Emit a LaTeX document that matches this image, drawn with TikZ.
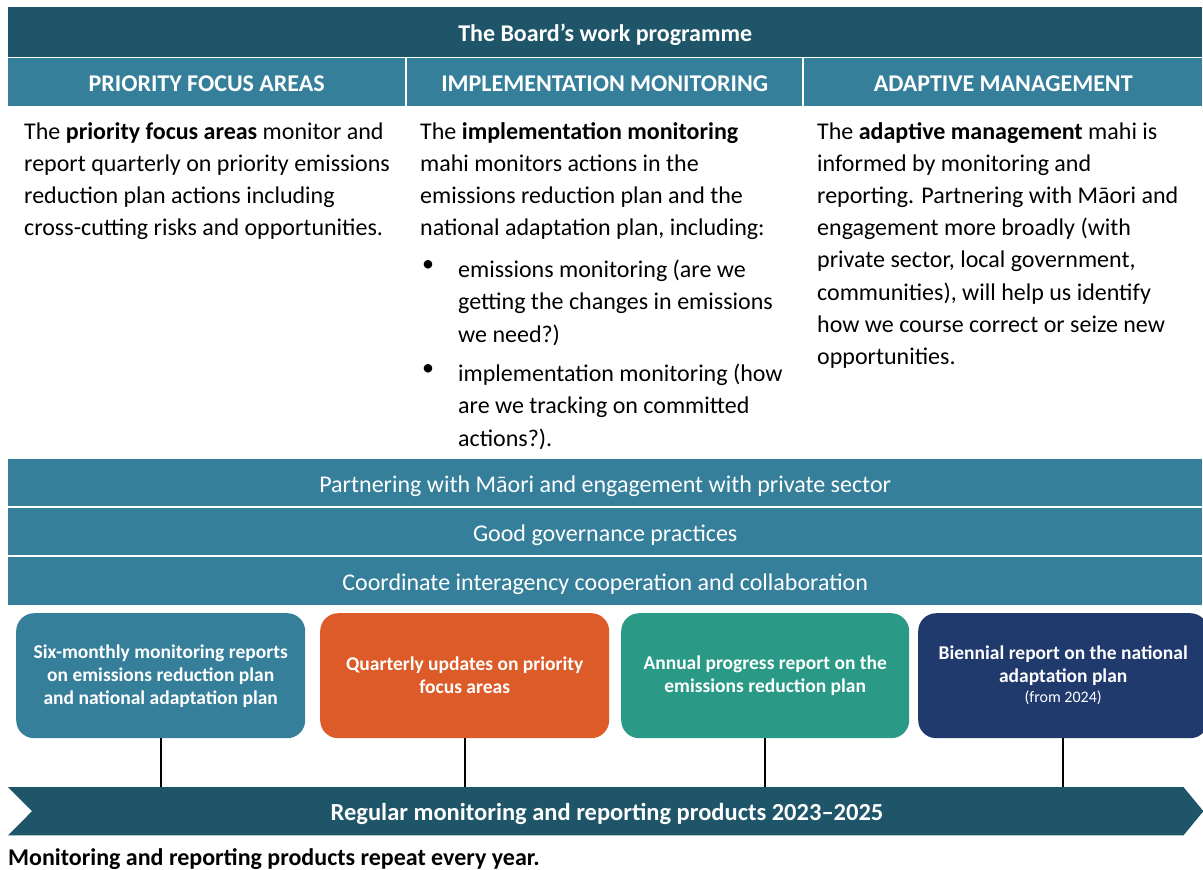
\documentclass[tikz,border=0pt]{standalone}
\usepackage{fontspec}
\setmainfont{Carlito}
\definecolor{hdr}{HTML}{1E5569}
\definecolor{tealc}{HTML}{357F9B}
\definecolor{orng}{HTML}{DC5B28}
\definecolor{grn}{HTML}{2A9A86}
\definecolor{navyc}{HTML}{203A6E}
\begin{document}
\begin{tikzpicture}[x=1pt,y=-1pt,
  bar/.style={anchor=north west,inner sep=0pt,text=white,text height=19pt,text depth=0pt},
  colhead/.style={bar,fill=tealc,minimum height=48pt,font=\fontsize{24}{28}\selectfont\bfseries},
  band/.style={bar,fill=tealc,minimum width=1194pt,font=\fontsize{24}{28}\selectfont},
  body/.style={anchor=north west,inner sep=0pt,align=left,font=\fontsize{24}{32.2}\selectfont},
  bul/.style={anchor=north west,inner sep=0pt,font=\fontsize{24}{32.2}\selectfont},
  prod/.style={anchor=north west,inner sep=0pt,rounded corners=18pt,minimum height=125pt,text=white,align=center,font=\fontsize{19.5}{23}\selectfont\bfseries},
  link/.style={line width=1.6pt,black}]
\useasboundingbox (0,0) rectangle (1203,870);
% title
\node[bar,fill=hdr,minimum width=1194pt,minimum height=50pt,font=\fontsize{24}{28}\selectfont\bfseries] (title) at (8,7) {The Board’s work programme};
\node[colhead,minimum width=397pt] (h1) at (8,58) {PRIORITY FOCUS AREAS};
\node[colhead,minimum width=395pt] (h2) at (407,58) {IMPLEMENTATION MONITORING};
\node[colhead,minimum width=398pt] (h3) at (804,58) {ADAPTIVE MANAGEMENT};
% column texts
\node[body] (t1) at (24,122) {The \textbf{priority focus areas} monitor and\\report quarterly on priority emissions\\reduction plan actions including\\cross-cutting risks and opportunities.};
\node[body] (t2) at (420,122) {The \textbf{implementation monitoring}\\mahi monitors actions in the\\emissions reduction plan and the\\national adaptation plan, including:};
\node[bul] (d1) at (422,260) {•};
\node[body] (t2a) at (458,260) {emissions monitoring (are we\\getting the changes in emissions\\we need?)};
\node[bul] (d2) at (422,364) {•};
\node[body] (t2b) at (458,364) {implementation monitoring (how\\are we tracking on committed\\actions?).};
\node[body] (t3) at (817,122) {The \textbf{adaptive management} mahi is\\informed by monitoring and\\reporting. Partnering with Māori and\\engagement more broadly (with\\private sector, local government,\\communities), will help us identify\\how we course correct or seize new\\opportunities.};
% bands
\node[band,minimum height=47pt] (p1) at (8,459) {Partnering with Māori and engagement with private sector};
\node[band,minimum height=47pt] (p2) at (8,508) {Good governance practices};
\node[band,minimum height=48pt] (p3) at (8,557) {Coordinate interagency cooperation and collaboration};
% products
\node[prod,fill=tealc,minimum width=289pt] (b1) at (16,613) {Six-monthly monitoring reports\\on emissions reduction plan\\and national adaptation plan};
\node[prod,fill=orng,minimum width=289pt] (b2) at (320,613) {Quarterly updates on priority\\focus areas};
\node[prod,fill=grn,minimum width=288pt] (b3) at (621,613) {Annual progress report on the\\emissions reduction plan};
\node[prod,fill=navyc,minimum width=290pt] (b4) at (918,613) {Biennial report on the national\\adaptation plan\\[-3pt]{\fontsize{16}{19}\selectfont\mdseries (from 2024)}};
% arrow
\node[anchor=north west,inner sep=0pt,minimum width=1195pt,minimum height=48pt] (arr) at (8,787) {};
\fill[hdr] (arr.north west) -- ([xshift=-20pt]arr.north east) -- (arr.east) -- ([xshift=-20pt]arr.south east) -- (arr.south west) -- ([xshift=24pt]arr.west) -- cycle;
\node[text=white,text height=19pt,text depth=0pt,inner sep=0pt,font=\fontsize{24.5}{28}\selectfont\bfseries] (arrtxt) at (607,811) {Regular monitoring and reporting products 2023–2025};
% links
\foreach \b in {b1,b2,b3,b4} \draw[link] (\b.south) -- (\b.south |- arr.north);
% note
\node[anchor=base west,inner sep=0pt,font=\fontsize{24}{28}\selectfont\bfseries] (note) at (8,865) {Monitoring and reporting products repeat every year.};
\end{tikzpicture}
\end{document}
